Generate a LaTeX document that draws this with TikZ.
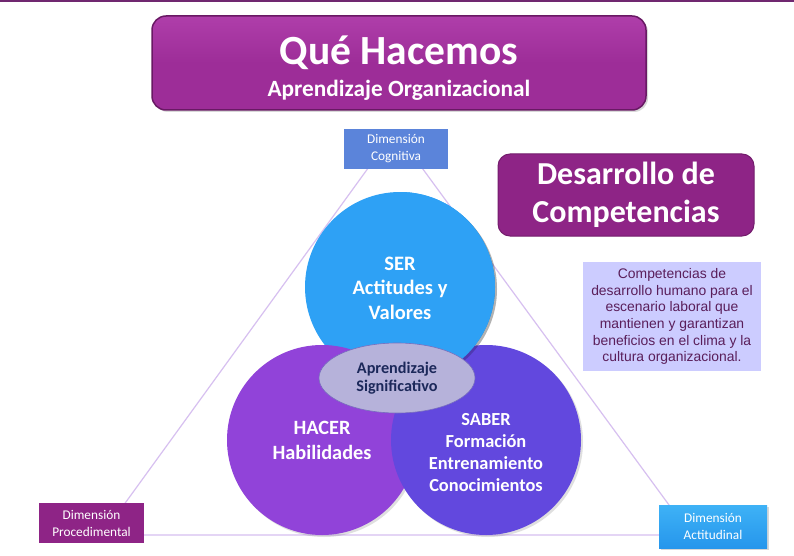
\documentclass[tikz,border=0pt]{standalone}
\usepackage{fontspec}
\setmainfont{Carlito}
\newfontfamily\arialf{Liberation Sans}
\usetikzlibrary{shapes.geometric,shadows}
\definecolor{topline}{RGB}{112,40,112}
\definecolor{titlec}{RGB}{157,45,152}
\definecolor{titlehi}{RGB}{175,62,170}
\definecolor{titlebd}{RGB}{105,25,100}
\definecolor{darkpur}{RGB}{142,36,134}
\definecolor{darkpurbd}{RGB}{115,28,108}
\definecolor{cogc}{RGB}{91,132,218}
\definecolor{actc1}{RGB}{62,178,246}
\definecolor{actc2}{RGB}{38,150,236}
\definecolor{descc}{RGB}{204,204,255}
\definecolor{desctext}{RGB}{90,30,90}
\definecolor{trilines}{RGB}{215,192,240}
\definecolor{serc}{RGB}{46,161,245}
\definecolor{hacerc}{RGB}{145,67,217}
\definecolor{saberc}{RGB}{98,72,222}
\definecolor{ellc}{RGB}{182,178,218}
\definecolor{ellbd}{RGB}{120,110,190}
\definecolor{elltext}{RGB}{28,40,90}
\begin{document}
\begin{tikzpicture}[x=1pt,y=-1pt,
  dimbox/.style={rectangle, inner sep=0pt, text=white, align=center,
    font=\fontsize{13.3}{17}\selectfont},
  bigcirc/.style={circle, minimum size=190pt, inner sep=0pt,
    drop shadow={opacity=0.25, shadow xshift=2pt, shadow yshift=-2pt}},
  circtext/.style={text=white, align=center},
  shade/.style={drop shadow={opacity=0.3, shadow xshift=2pt, shadow yshift=-2pt}}
]
\useasboundingbox (0,0) rectangle (794,556);
\fill[white] (0,0) rectangle (794,556);
% top rule
\coordinate (tl) at (0,1);
\coordinate (tr) at (794,1);
\draw[topline, line width=2pt] (tl) -- (tr);
% triangle
\coordinate (apex) at (395,131);
\coordinate (bl) at (102,535);
\coordinate (br) at (691,535);
\draw[trilines, line width=1.2pt] (apex) -- (bl) -- (br) -- cycle;

% title
\node[rectangle, rounded corners=14pt, minimum width=494pt, minimum height=94pt,
  top color=titlehi, bottom color=titlec, middle color=titlec, draw=titlebd, line width=1.5pt, shade]
  (title) at (399,63) {};
\node[text=white, anchor=base, font=\bfseries\fontsize{41.5}{44}\selectfont] (t1) at (399,65) {Qué Hacemos};
\node[text=white, anchor=base, font=\bfseries\fontsize{23.3}{26}\selectfont] (t2) at (399,97) {Aprendizaje Organizacional};

% dimension boxes
\node[dimbox, fill=cogc, minimum width=104pt, minimum height=40pt] (cog) at (396,149) {Dimensión\\Cognitiva};
\node[dimbox, fill=darkpur, minimum width=105pt, minimum height=40pt] (proc) at (91.5,523) {Dimensión\\Procedimental};
\node[dimbox, top color=actc1, bottom color=actc2, minimum width=108pt, minimum height=43pt, shade] (act) at (713,526.5) {Dimensión\\Actitudinal};

% Desarrollo box
\node[rectangle, rounded corners=12pt, minimum width=256pt, minimum height=82pt,
  fill=darkpur, draw=darkpurbd, line width=1pt, text=white, align=center,
  font=\bfseries\fontsize{32}{38}\selectfont] (des) at (626,195) {Desarrollo de\\Competencias};

% description
\node[rectangle, fill=descc, minimum width=178pt, minimum height=109pt, text=desctext, align=center,
  font=\arialf\fontsize{13.9}{16.7}\selectfont] (desc) at (672,316.5)
  {Competencias de\\desarrollo humano para el\\escenario laboral que\\mantienen y garantizan\\beneficios en el clima y la\\cultura organizacional.};

% circles
\node[bigcirc, fill=serc] (ser) at (400,287) {};
\node[bigcirc, fill=hacerc] (hacer) at (322,440) {};
\node[bigcirc, fill=saberc] (saber) at (486,440) {};
\begin{scope}
  \clip (400,150) rectangle (620,400);
  \fill[black, opacity=0.2] ([xshift=2pt,yshift=-2pt]ser.center) circle (95pt);
  \fill[serc] (ser.center) circle (95pt);
\end{scope}

\node[circtext, font=\bfseries\fontsize{20.5}{24.5}\selectfont] (sert) at (400,288) {SER\\Actitudes y\\Valores};
\node[circtext, font=\bfseries\fontsize{20.3}{25}\selectfont] (hacert) at (322,440.5) {HACER\\Habilidades};
\node[circtext, font=\bfseries\fontsize{18.4}{22.3}\selectfont] (sabert) at (486,452.5) {SABER\\Formación\\Entrenamiento\\Conocimientos};

% ellipse
\node[ellipse, minimum width=156pt, minimum height=70pt, inner sep=0pt, fill=ellc, draw=ellbd, line width=0.6pt,
  text=elltext, align=center, font=\bfseries\fontsize{16.2}{18.5}\selectfont] (apr) at (397,378) {Aprendizaje\\Significativo};
\end{tikzpicture}
\end{document}
